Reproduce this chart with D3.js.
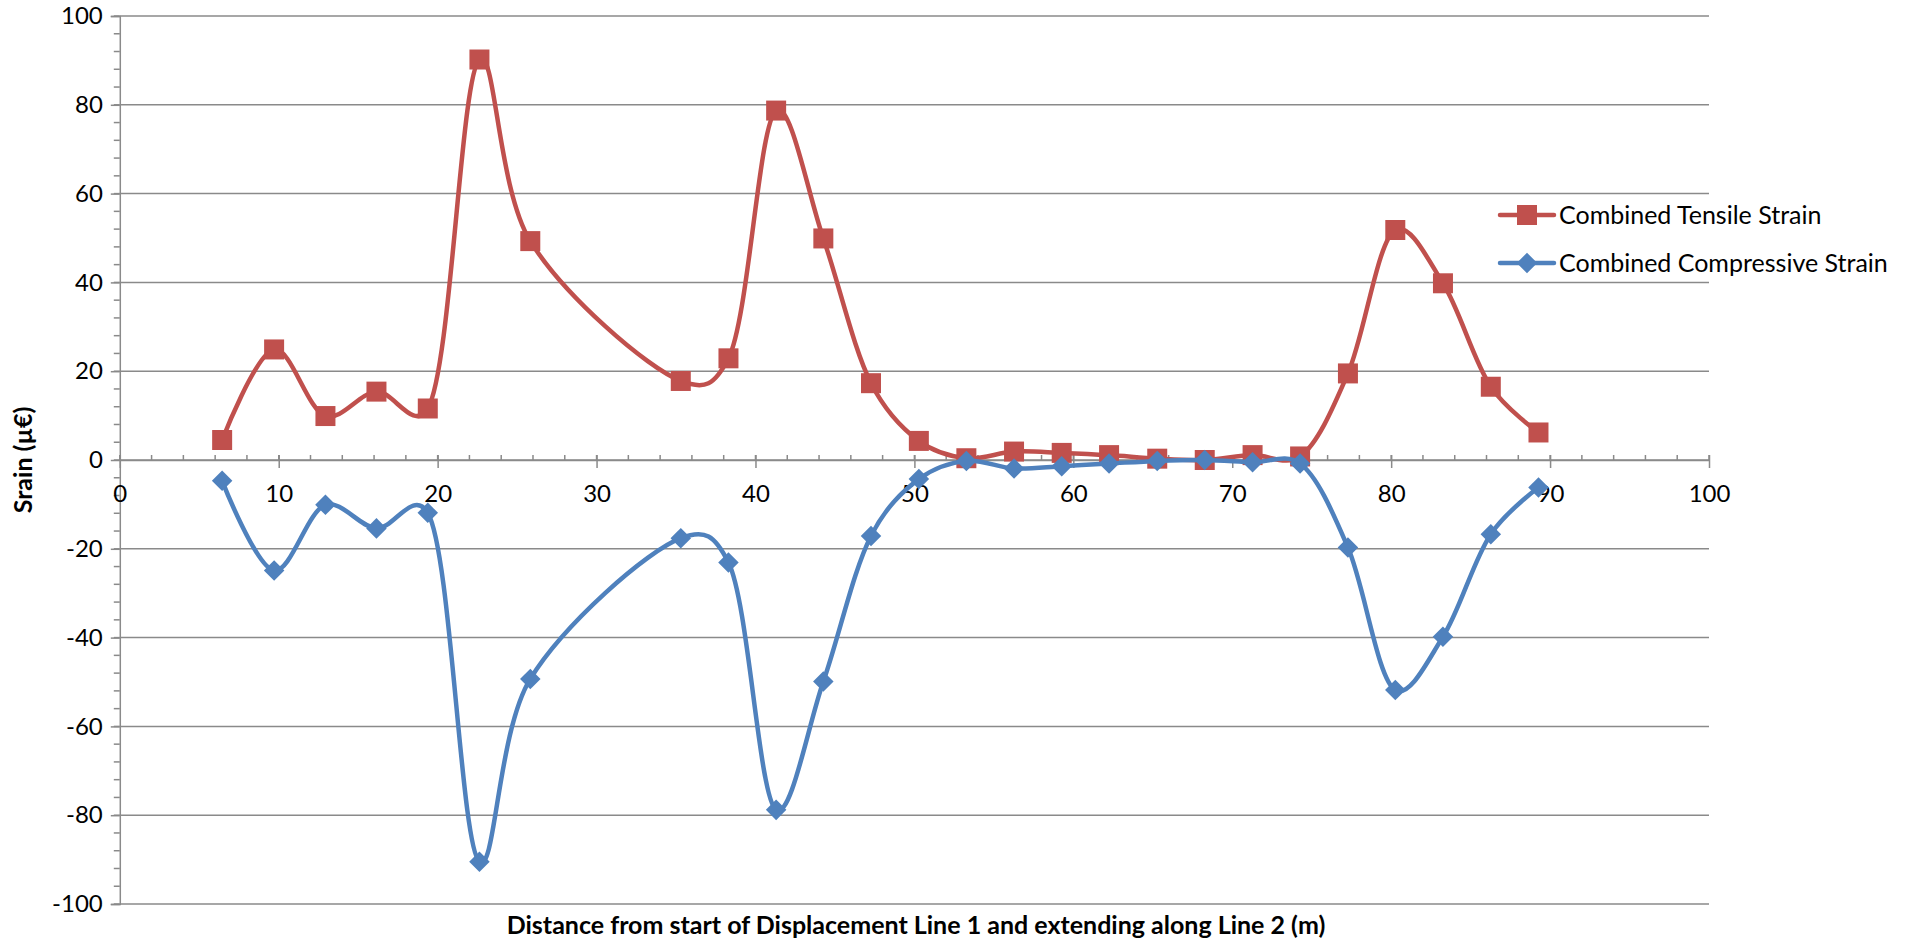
<!DOCTYPE html>
<html>
<head>
<meta charset="utf-8">
<script src="https://cdn.jsdelivr.net/npm/d3@7"></script>
<style>
  html, body { margin: 0; padding: 0; background: #fff; }
  svg { display: block; font-family: Lato, "Open Sans", sans-serif; }
</style>
</head>
<body>
<svg id="chart" width="1908" height="943"></svg>
<script>
// ---- data ----
const distance = [6.44, 9.71, 12.94, 16.15, 19.38, 22.63, 25.83, 35.3, 38.3, 41.3, 44.27, 47.27, 50.28, 53.27, 56.27, 59.27, 62.25, 65.28, 68.27, 71.28, 74.27, 77.28, 80.26, 83.26, 86.27, 89.27];
const tensile = [4.5, 24.9, 9.9, 15.4, 11.6, 90.2, 49.3, 17.8, 22.9, 78.7, 49.9, 17.3, 4.3, 0.4, 1.9, 1.6, 1.1, 0.3, 0.0, 1.1, 0.8, 19.5, 51.8, 39.8, 16.5, 6.2];
const compressive = [-4.7, -24.9, -10.1, -15.4, -11.9, -90.5, -49.3, -17.6, -23.1, -78.8, -49.9, -17.1, -4.3, -0.2, -1.9, -1.4, -0.8, -0.2, 0.0, -0.5, -0.8, -19.7, -51.8, -39.8, -16.7, -6.2];
const seriesNames = ["Combined Tensile Strain", "Combined Compressive Strain"];
const xTicks = [0, 10, 20, 30, 40, 50, 60, 70, 80, 90, 100];
const yTicks = [100, 80, 60, 40, 20, 0, -20, -40, -60, -80, -100];
const xTitle = "Distance from start of Displacement Line 1 and extending along Line 2 (m)";
const yTitle = "Srain (µ€)";

// ---- layout ----
const svg = d3.select("#chart");
const x = d3.scaleLinear().domain([0, 100]).range([119.8, 1709]);
const y = d3.scaleLinear().domain([-100, 100]).range([904, 16]);
const gridColor = "#8a8a8a";
const colors = ["#C0504D", "#4F81BD"];
const fmt = d => String(d);

// gridlines
svg.append("g").selectAll("line").data(yTicks).join("line")
  .attr("x1", x(0)).attr("x2", x(100))
  .attr("y1", d => y(d)).attr("y2", d => y(d))
  .attr("stroke", gridColor).attr("stroke-width", 1.5);

// y axis
const yAxisG = svg.append("g").attr("transform", `translate(${x(0)},0)`);
yAxisG.call(d3.axisLeft(y).tickValues(yTicks).tickSize(9).tickPadding(8).tickFormat(fmt));
yAxisG.append("g").selectAll("line").data(d3.range(-100, 101, 4)).join("line")
  .attr("x1", -6).attr("x2", 0).attr("y1", d => y(d)).attr("y2", d => y(d))
  .attr("stroke", gridColor).attr("stroke-width", 1.5);

// x axis at y=0
const xAxisG = svg.append("g").attr("transform", `translate(0,${y(0)})`);
xAxisG.call(d3.axisBottom(x).tickValues(xTicks).tickSizeInner(8).tickSizeOuter(0).tickPadding(17).tickFormat(fmt));
xAxisG.selectAll(".tick line").attr("y1", -5);
xAxisG.append("g").selectAll("line").data(d3.range(0, 101, 2)).join("line")
  .attr("x1", d => x(d)).attr("x2", d => x(d)).attr("y1", -5).attr("y2", 0)
  .attr("stroke", gridColor).attr("stroke-width", 1.5);

[yAxisG, xAxisG].forEach(g => {
  g.selectAll("path.domain").attr("stroke", gridColor).attr("stroke-width", 1.5);
  g.selectAll(".tick line").attr("stroke", gridColor).attr("stroke-width", 1.5);
  g.selectAll(".tick text").attr("fill", "#000").attr("font-size", 24)
    .attr("font-family", "Lato, 'Open Sans', sans-serif");
});

// series
const seriesData = [tensile, compressive];
const line = d3.line().x(d => x(d[0])).y(d => y(d[1])).curve(d3.curveCatmullRom.alpha(0.25));
const square = d3.symbol().type(d3.symbolSquare).size(20 * 20);
const diamond = d3.symbol().type(d3.symbolSquare).size(14.5 * 14.5);

seriesData.forEach((vals, i) => {
  const pts = distance.map((d, j) => [d, vals[j]]);
  const g = svg.append("g");
  g.append("path").datum(pts).attr("d", line)
    .attr("fill", "none").attr("stroke", colors[i]).attr("stroke-width", 4.5)
    .attr("stroke-linejoin", "round").attr("stroke-linecap", "round");
  g.selectAll("path.m").data(pts).join("path").attr("class", "m")
    .attr("d", i === 0 ? square : diamond)
    .attr("transform", d => `translate(${x(d[0])},${y(d[1])})` + (i === 1 ? " rotate(45)" : ""))
    .attr("fill", colors[i]);
});

// legend
const legendY = [215, 263];
seriesNames.forEach((name, i) => {
  const g = svg.append("g").attr("transform", `translate(0,${legendY[i]})`);
  g.append("line").attr("x1", 1500).attr("x2", 1554).attr("y1", 0).attr("y2", 0)
    .attr("stroke", colors[i]).attr("stroke-width", 4.5).attr("stroke-linecap", "round");
  g.append("path").attr("d", i === 0 ? square : diamond)
    .attr("transform", `translate(1527,0)` + (i === 1 ? " rotate(45)" : ""))
    .attr("fill", colors[i]);
  g.append("text").attr("x", 1559).attr("y", 0).attr("dy", "0.35em")
    .attr("font-size", 25).attr("fill", "#000").text(name);
});

// axis titles
svg.append("text").attr("x", 916).attr("y", 925).attr("dy", "0.35em")
  .attr("text-anchor", "middle").attr("font-weight", "bold").attr("font-size", 25)
  .text(xTitle);
svg.append("text").attr("transform", "translate(23,460) rotate(-90)")
  .attr("dy", "0.35em").attr("text-anchor", "middle").attr("font-weight", "bold").attr("font-size", 25)
  .text(yTitle);
</script>
</body>
</html>
